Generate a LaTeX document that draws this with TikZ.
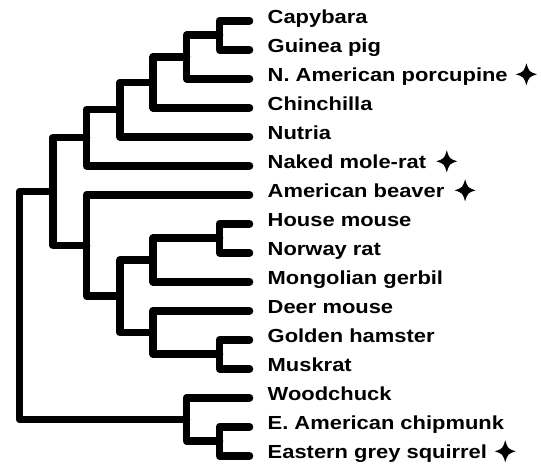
\documentclass[tikz,border=0pt]{standalone}
\usepackage{fontspec}
\newfontfamily\taxonfont{Liberation Sans}[FakeStretch=1.16]
\usetikzlibrary{calc}
% one clade: name, x of its bar, upper child, lower child
\newcommand{\clade}[4]{%
  \path let \p1=($(#3)!.5!(#4)$) in coordinate (#1) at (#2pt,\y1);
  \draw[branch] (#3) -| (#1) |- (#4);}

\begin{document}
\begin{tikzpicture}[x=1pt, y=-1pt]
        \tikzstyle{branch} = [line width=7.6pt, line cap=round, line join=round]
        \tikzstyle{taxon} = [anchor=base west, inner sep=0pt, font=\taxonfont\bfseries\fontsize{18.9}{22}\selectfont]
        \tikzset{spark/.pic={\fill (0,-11) .. controls (2.6,-2.6) .. (10.5,0) .. controls (2.6,2.6) .. (0,11) .. controls (-2.6,2.6) .. (-10.5,0) .. controls (-2.6,-2.6) .. (0,-11) -- cycle;}}
        \useasboundingbox (0,0) rectangle (541,466);
        \foreach \i in {1,...,16} \coordinate (L\i) at (249.5, {20.7+29*(\i-1)});
        \node[taxon] (capybara) at ($(L1)+(18,2.8)$) {Capybara};
        \node[taxon] (guinea) at ($(L2)+(18,2.8)$) {Guinea pig};
        \node[taxon] (porcupine) at ($(L3)+(18,2.8)$) {N. American porcupine};
        \node[taxon] (chinchilla) at ($(L4)+(18,2.8)$) {Chinchilla};
        \node[taxon] (nutria) at ($(L5)+(18,2.8)$) {Nutria};
        \node[taxon] (molerat) at ($(L6)+(18,2.8)$) {Naked mole-rat};
        \node[taxon] (beaver) at ($(L7)+(18,2.8)$) {American beaver};
        \node[taxon] (mouse) at ($(L8)+(18,2.8)$) {House mouse};
        \node[taxon] (rat) at ($(L9)+(18,2.8)$) {Norway rat};
        \node[taxon] (gerbil) at ($(L10)+(18,2.8)$) {Mongolian gerbil};
        \node[taxon] (deermouse) at ($(L11)+(18,2.8)$) {Deer mouse};
        \node[taxon] (hamster) at ($(L12)+(18,2.8)$) {Golden hamster};
        \node[taxon] (muskrat) at ($(L13)+(18,2.8)$) {Muskrat};
        \node[taxon] (woodchuck) at ($(L14)+(18,2.8)$) {Woodchuck};
        \node[taxon] (chipmunk) at ($(L15)+(18,2.8)$) {E. American chipmunk};
        \node[taxon] (squirrel) at ($(L16)+(18,2.8)$) {Eastern grey squirrel};
        \pic at ($(porcupine.base east)+(18.5,-7.2)$) {spark};
        \pic at ($(molerat.base east)+(20.5,-7.2)$) {spark};
        \pic at ($(beaver.base east)+(20.5,-7.2)$) {spark};
        \pic at ($(squirrel.base east)+(18,-7.2)$) {spark};
        \clade{cavies}{219.5}{L1}{L2}
        \clade{cavpor}{186.5}{cavies}{L3}
        \clade{cavchi}{153}{cavpor}{L4}
        \clade{cavnut}{120}{cavchi}{L5}
        \clade{hystrico}{86.5}{cavnut}{L6}
        \clade{murids}{219.5}{L8}{L9}
        \clade{gerbils}{153}{murids}{L10}
        \clade{voles}{219.5}{L12}{L13}
        \clade{cricetids}{153}{L11}{voles}
        \clade{muroids}{120}{gerbils}{cricetids}
        \clade{castor}{86.5}{L7}{muroids}
        \clade{rodents}{53}{hystrico}{castor}
        \clade{chipsq}{219.5}{L15}{L16}
        \clade{sciurids}{186.5}{L14}{chipsq}
        \clade{root}{19.5}{rodents}{sciurids}
\end{tikzpicture}
\end{document}
